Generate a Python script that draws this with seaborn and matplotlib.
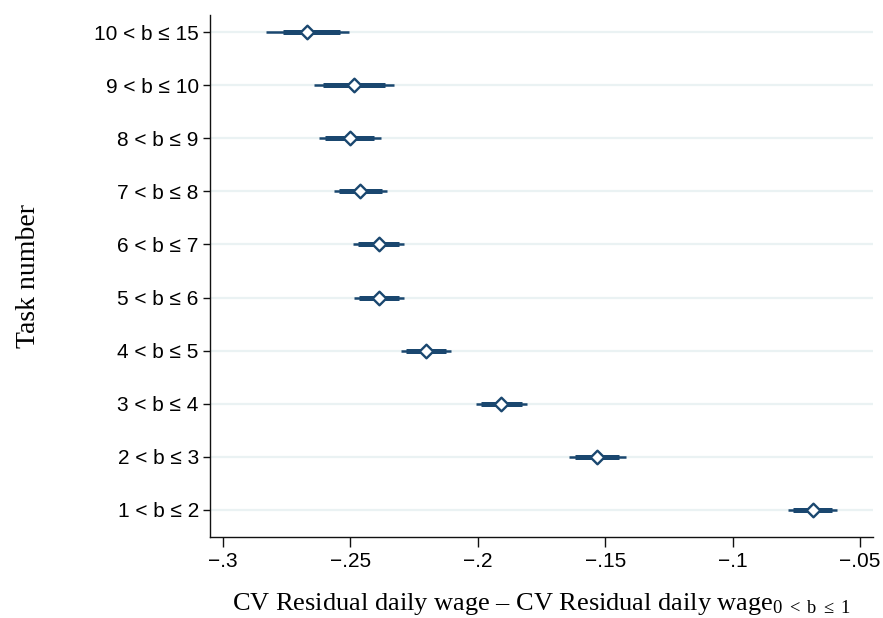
import matplotlib
matplotlib.use("Agg")
import matplotlib.pyplot as plt
import seaborn as sns
import pandas as pd
import numpy as np

categories = ["10 < b ≤ 15", "9 < b ≤ 10", "8 < b ≤ 9", "7 < b ≤ 8", "6 < b ≤ 7",
              "5 < b ≤ 6", "4 < b ≤ 5", "3 < b ≤ 4", "2 < b ≤ 3", "1 < b ≤ 2"]
estimate = [-0.2670, -0.2486, -0.2502, -0.2462, -0.2388, -0.2388, -0.2203, -0.1909, -0.1532, -0.0684]
ci99_low = [-0.2831, -0.2643, -0.2623, -0.2564, -0.2490, -0.2486, -0.2301, -0.2007, -0.1642, -0.0783]
ci99_high = [-0.2505, -0.2329, -0.2380, -0.2356, -0.2290, -0.2290, -0.2105, -0.1807, -0.1418, -0.0590]
ci95_low = [-0.2765, -0.2608, -0.2600, -0.2545, -0.2470, -0.2466, -0.2282, -0.1987, -0.1619, -0.0763]
ci95_high = [-0.2541, -0.2364, -0.2407, -0.2376, -0.2309, -0.2309, -0.2125, -0.1827, -0.1446, -0.0610]
xticks = [-0.30, -0.25, -0.20, -0.15, -0.10, -0.05]
xtick_labels = ["\u2212.3", "\u2212.25", "\u2212.2", "\u2212.15", "\u2212.1", "\u2212.05"]

df = pd.DataFrame({"cat": categories, "est": estimate,
                   "lo99": ci99_low, "hi99": ci99_high,
                   "lo95": ci95_low, "hi95": ci95_high})

sns.set_theme(style="white")
plt.rcParams['font.family'] = ['Liberation Sans', 'DejaVu Sans']
plt.rcParams['mathtext.fontset'] = 'custom'
plt.rcParams['mathtext.rm'] = 'Liberation Serif'
plt.rcParams['mathtext.it'] = 'Liberation Serif:italic'

navy = "#1a476f"
fig = plt.figure(figsize=(8.83, 6.18), dpi=100)
ax = fig.add_axes([0.2378, 0.1311, 0.9887 - 0.2378, 0.9757 - 0.1311])

pos = np.arange(len(categories))
for p in pos:
    ax.axhline(p, color="#eaf2f3", lw=1.6, zorder=0)

ax.hlines(pos, df["lo99"], df["hi99"], color=navy, lw=1.8, zorder=2)
ax.hlines(pos, df["lo95"], df["hi95"], color=navy, lw=3.6, zorder=3)

sns.scatterplot(data=df, x="est", y="cat", marker="D", s=48, color="white",
                edgecolor=navy, linewidth=1.7, zorder=4, ax=ax, legend=False)

ax.set_ylim(len(categories) - 1 + 0.51, -0.32)
ax.set_xlim(-0.3051, -0.0449)
ax.set_xticks(xticks)
ax.set_xticklabels(xtick_labels, fontsize=15, color="black")
ax.set_yticks(pos)
ax.set_yticklabels(categories, fontsize=15, color="black")

for s in ["top", "right"]:
    ax.spines[s].set_visible(False)
for s in ["left", "bottom"]:
    ax.spines[s].set_color("#111111")
    ax.spines[s].set_linewidth(1.0)
ax.tick_params(axis="x", direction="out", length=7, width=1, color="#111111", pad=4, bottom=True)
ax.tick_params(axis="y", direction="out", length=5, width=1, color="#111111", pad=3, left=True)

ax.set_ylabel("Task number", fontsize=20, family="Liberation Serif", labelpad=38, color="black")
ax.set_xlabel("CV Residual daily wage \u2013 CV Residual daily wage$_{0\\ <\\ \\mathrm{b}\\ \\leq\\ 1}$",
              fontsize=19, family="Liberation Serif", labelpad=14, color="black")

fig.savefig("out.png", dpi=100)
